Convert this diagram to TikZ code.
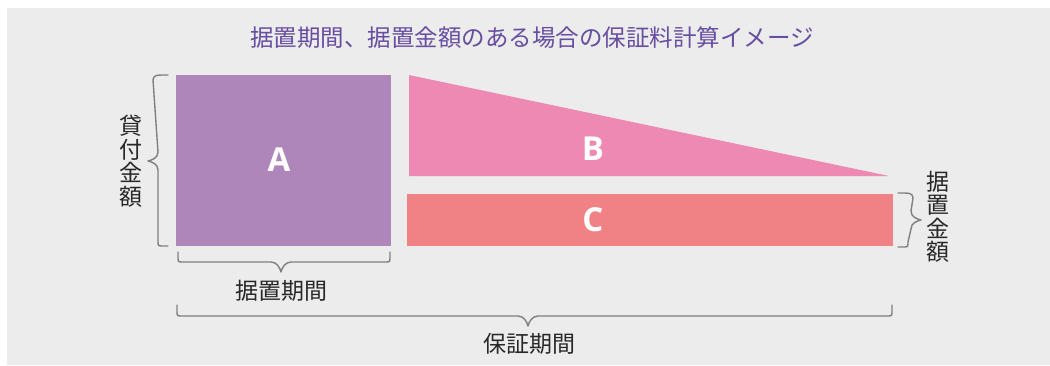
\documentclass[tikz,border=0pt]{standalone}
\usepackage{fontspec}
\setmainfont{Noto Sans CJK JP}
\newfontfamily\letterfont{Open Sans}
\usetikzlibrary{calc}
\definecolor{bggray}{RGB}{235,236,235}
\definecolor{titlepurple}{RGB}{104,78,160}
\definecolor{colA}{RGB}{175,134,186}
\definecolor{colB}{RGB}{238,137,180}
\definecolor{colC}{RGB}{240,130,134}
\definecolor{bracegray}{RGB}{128,128,128}
\definecolor{textdark}{RGB}{40,40,40}
\tikzset{
  brace/.style={draw=bracegray, line width=1.4pt, line join=round, line cap=round},
  letter/.style={text=white, font=\letterfont\bfseries\fontsize{33}{36}\selectfont, inner sep=0pt},
  lbl/.style={text=textdark, font=\fontsize{23}{24}\selectfont, inner sep=0pt},
  vlbl/.style={text=textdark, font=\fontsize{23}{23.5}\selectfont, inner sep=0pt, align=center},
  boxshape/.style={draw=none, inner sep=0pt, anchor=north west}
}
\begin{document}
\begin{tikzpicture}[x=1pt,y=-1pt]
\useasboundingbox (0,0) rectangle (1050,365);
\fill[bggray] (7,8) rectangle (1050,365);
% title
\node[text=titlepurple, font=\fontsize{23.5}{25}\selectfont, inner sep=0pt] (title) at (532,38) {据置期間、据置金額のある場合の保証料計算イメージ};
% A
\node[boxshape, fill=colA, minimum width=215pt, minimum height=171pt] (A) at (176,75) {};
\node[letter] (Alab) at (279,160) {A};
% B triangle
\coordinate (Btl) at (409,75);
\coordinate (Bbl) at (409,176);
\coordinate (Bbr) at (889,176);
\fill[colB] (Btl) -- (Bbr) -- (Bbl) -- cycle;
\node[letter] (Blab) at (593,149) {B};
% C
\node[boxshape, fill=colC, minimum width=486pt, minimum height=52pt] (C) at (407,194) {};
\node[letter] (Clab) at (593,220) {C};
% left brace
\coordinate (lbT) at (168,75);
\coordinate (lbB) at (168,246);
\coordinate (lbM) at (148,161);
\draw[brace] (lbT) -- ++(-5,0) .. controls ++(-5,0) and ++(0,-5) .. ++(-10,5) -- ($(lbM)+(10,-9)$) .. controls ++(0,6) and ++(4,-1) .. (lbM) .. controls ++(4,1) and ++(0,-6) .. ($(lbM)+(10,9)$) -- ($(lbB)+(-10,-5)$) .. controls ++(0,5) and ++(-5,0) .. ($(lbB)+(-5,0)$) -- (lbB);
\node[vlbl] (lamt) at (131,161) {貸\\付\\金\\額};
% small bottom brace
\coordinate (sbL) at (178,252);
\coordinate (sbR) at (390,252);
\coordinate (sbM) at (281,272);
\draw[brace] (sbL) -- ++(0,5) .. controls ++(0,5) and ++(-5,0) .. ++(5,5) -- ($(sbM)+(-10,-10)$) .. controls ++(6,0) and ++(-1,-4) .. (sbM) .. controls ++(1,-4) and ++(-6,0) .. ($(sbM)+(10,-10)$) -- ($(sbR)+(-5,10)$) .. controls ++(5,0) and ++(0,5) .. ($(sbR)+(0,5)$) -- (sbR);
\node[lbl] (speriod) at (281,291) {据置期間};
% big bottom brace
\coordinate (bbL) at (177,305);
\coordinate (bbR) at (892,305);
\coordinate (bbM) at (528,326);
\draw[brace] (bbL) -- ++(0,6) .. controls ++(0,5) and ++(-5,0) .. ++(5,5) -- ($(bbM)+(-10,-10)$) .. controls ++(6,0) and ++(-1,-4) .. (bbM) .. controls ++(1,-4) and ++(-6,0) .. ($(bbM)+(10,-10)$) -- ($(bbR)+(-5,11)$) .. controls ++(5,0) and ++(0,5) .. ($(bbR)+(0,6)$) -- (bbR);
\node[lbl] (gperiod) at (529,344) {保証期間};
% right brace
\coordinate (rbT) at (898,193);
\coordinate (rbB) at (898,247);
\coordinate (rbM) at (921,220);
\draw[brace] (rbT) -- ++(5,0) .. controls ++(5,0) and ++(0,-5) .. ++(10,5) -- ($(rbM)+(-10,-9)$) .. controls ++(0,6) and ++(-4,-1) .. (rbM) .. controls ++(-4,1) and ++(0,-6) .. ($(rbM)+(-10,9)$) -- ($(rbB)+(10,-5)$) .. controls ++(0,5) and ++(5,0) .. ($(rbB)+(5,0)$) -- (rbB);
\node[vlbl] (ramt) at (938,217) {据\\置\\金\\額};
\end{tikzpicture}
\end{document}
